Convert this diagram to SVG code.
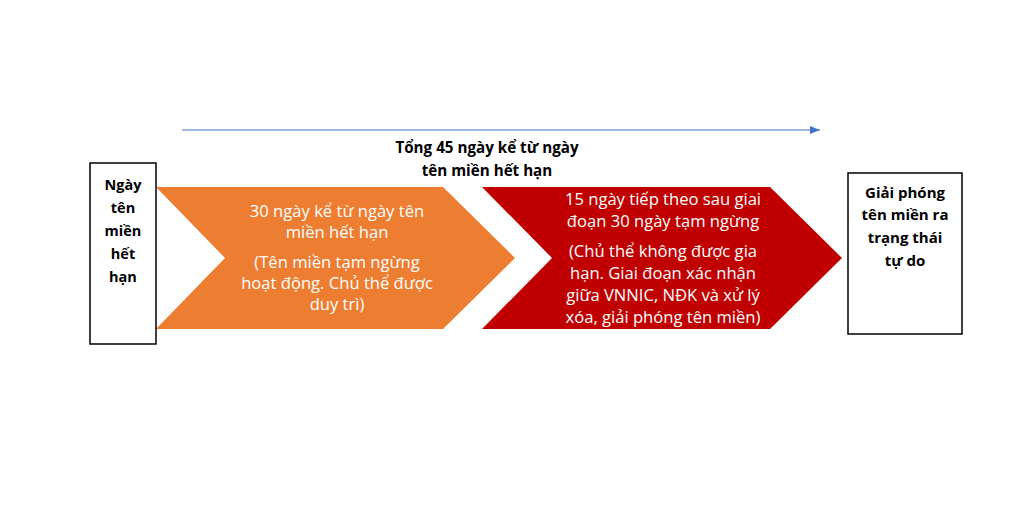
<svg xmlns="http://www.w3.org/2000/svg" width="1024" height="512" viewBox="0 0 1024 512">
<defs>
<style>
.t{font-family:"Open Sans","Liberation Sans",sans-serif;font-size:14.5px;text-anchor:middle}
.b{font-weight:bold;fill:#000}
.w{fill:#fff;font-size:16.6px}
.s{font-size:15.2px}
.r{font-size:15px}
.box{fill:#fff;stroke:#000;stroke-width:1.5}
</style>
<marker id="ah" markerWidth="10" markerHeight="8" refX="10" refY="4" orient="auto" markerUnits="userSpaceOnUse">
<path d="M0,0 L10,4 L0,8 z" fill="#4472C4"/>
</marker>
</defs>
<rect width="1024" height="512" fill="#fff"/>
<g id="connectors">
<line x1="182" y1="130" x2="820" y2="130" stroke="#4472C4" stroke-width="1.2" marker-end="url(#ah)"/>
</g>
<g id="title">
<text class="t b s" x="487" y="153">Tổng 45 ngày kể từ ngày</text>
<text class="t b s" x="487" y="176">tên miền hết hạn</text>
</g>
<g id="stage1">
<path d="M156,187 L443,187 L515,258 L443,329 L156,329 L225,258 Z" fill="#ED7D31"/>
<text class="t w" x="337" y="217">30 ngày kể từ ngày tên</text>
<text class="t w" x="337" y="238">miền hết hạn</text>
<text class="t w" x="337" y="268">(Tên miền tạm ngừng</text>
<text class="t w" x="337" y="289">hoạt động. Chủ thể được</text>
<text class="t w" x="337" y="310">duy trì)</text>
</g>
<g id="stage2">
<path d="M482,187 L770,187 L842,258 L770,329 L482,329 L552,258 Z" fill="#C00000"/>
<text class="t w" x="663" y="205">15 ngày tiếp theo sau giai</text>
<text class="t w" x="663" y="227">đoạn 30 ngày tạm ngừng</text>
<text class="t w" x="663" y="257">(Chủ thể không được gia</text>
<text class="t w" x="663" y="279">hạn. Giai đoạn xác nhận</text>
<text class="t w" x="663" y="301">giữa VNNIC, NĐK và xử lý</text>
<text class="t w" x="663" y="323">xóa, giải phóng tên miền)</text>
</g>
<g id="start">
<rect class="box" x="90" y="163" width="66" height="181"/>
<text class="t b" x="123" y="190">Ngày</text>
<text class="t b" x="123" y="213">tên</text>
<text class="t b" x="123" y="236">miền</text>
<text class="t b" x="123" y="259">hết</text>
<text class="t b" x="123" y="282">hạn</text>
</g>
<g id="end">
<rect class="box" x="848" y="173" width="114" height="161"/>
<text class="t b r" x="905" y="198">Giải phóng</text>
<text class="t b r" x="905" y="220">tên miền ra</text>
<text class="t b r" x="905" y="243">trạng thái</text>
<text class="t b r" x="905" y="266">tự do</text>
</g>
</svg>
